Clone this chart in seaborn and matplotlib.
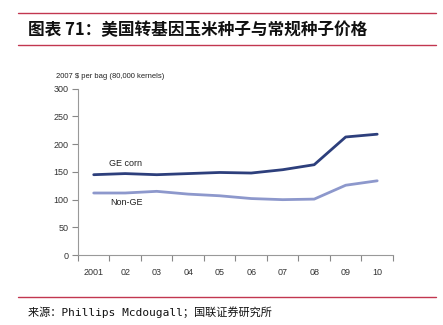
import matplotlib
matplotlib.use("Agg")
import matplotlib.pyplot as plt
import seaborn as sns
import pandas as pd
from matplotlib.lines import Line2D

years = ["2001", "02", "03", "04", "05", "06", "07", "08", "09", "10"]
ge_corn = [145, 147, 145, 147, 149, 148, 154, 163, 213, 218]
non_ge = [112, 112, 115, 110, 107, 102, 100, 101, 126, 134]
series_names = ["GE corn", "Non-GE"]

sns.set_theme(style="white")
plt.rcParams['font.family'] = ['Liberation Sans', 'DejaVu Sans']

df = pd.DataFrame({
    "x": list(range(len(years))) * 2,
    "value": ge_corn + non_ge,
    "series": [series_names[0]] * len(years) + [series_names[1]] * len(years),
})

fig = plt.figure(figsize=(4.43, 3.25), dpi=100)
ax = fig.add_axes([0.176, 0.215, 0.711, 0.512])
sns.lineplot(data=df, x="x", y="value", hue="series",
             palette={"GE corn": "#2d3f7c", "Non-GE": "#8d98cc"},
             linewidth=2.0, legend=False, ax=ax)

ax.set_xlim(-0.5, 9.5)
ax.set_ylim(0, 300)
ax.set_xticks(range(len(years)))
ax.set_xticklabels(years)
ax.set_xticks([i + 0.5 for i in range(-1, len(years))], minor=True)
ax.set_yticks([0, 50, 100, 150, 200, 250, 300])
ax.tick_params(axis="x", which="major", length=0, pad=9, labelsize=6.5, colors="#333333")
ax.tick_params(axis="x", which="minor", length=4, width=0.8, color="#888888", direction="out", bottom=True)
ax.tick_params(axis="y", which="major", length=4, width=0.8, color="#888888", direction="out",
               left=True, labelsize=6.5, pad=3, labelcolor="#333333")
ax.set_xlabel("")
ax.set_ylabel("")
for s in ["top", "right"]:
    ax.spines[s].set_visible(False)
for s in ["left", "bottom"]:
    ax.spines[s].set_color("#999999")
    ax.spines[s].set_linewidth(0.8)
ax.grid(False)

ax.text(1.0, 165, "GE corn", fontsize=6.5, ha="center", va="center", color="#222222")
ax.text(1.05, 95, "Non-GE", fontsize=6.5, ha="center", va="center", color="#222222")
fig.text(56 / 443, 1 - 76 / 325, "2007 $ per bag (80,000 kernels)", fontsize=5.5,
         ha="left", va="center", color="#222222")

red = "#c23650"
fig.add_artist(Line2D([18 / 443, 436 / 443], [1 - 13 / 325] * 2, color=red, lw=1.0))
fig.add_artist(Line2D([18 / 443, 436 / 443], [1 - 45 / 325] * 2, color=red, lw=1.0))
fig.add_artist(Line2D([18 / 443, 436 / 443], [1 - 297 / 325] * 2, color=red, lw=1.0))

fig.text(28 / 443, 1 - 30 / 325, "图表 71：美国转基因玉米种子与常规种子价格",
         family=["Noto Sans CJK SC", "DejaVu Sans"], fontsize=12, fontweight="bold",
         ha="left", va="center", color="#111111", style="italic")
fig.text(28 / 443, 1 - 312 / 325, "来源：Phillips Mcdougall；国联证券研究所",
         family=["DejaVu Sans Mono", "Noto Sans CJK SC"], fontsize=8,
         ha="left", va="center", color="#111111")

fig.savefig("out.png", dpi=100)
